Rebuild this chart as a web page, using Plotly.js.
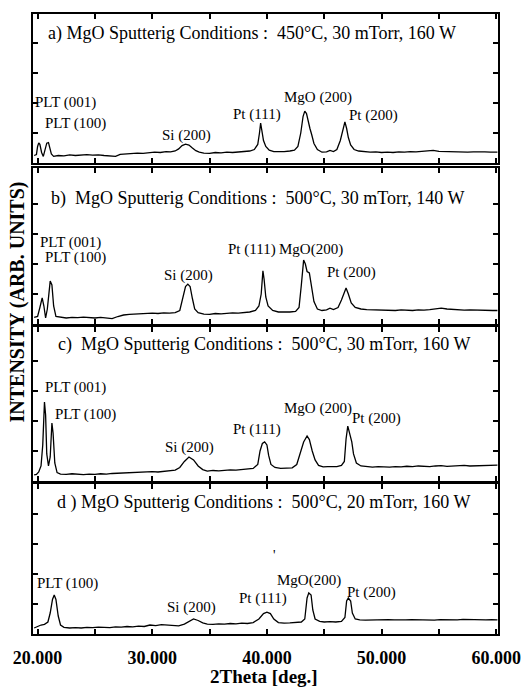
<!DOCTYPE html>
<html>
<head>
<meta charset="utf-8">
<script src="https://cdn.plot.ly/plotly-3.0.1.min.js"></script>
</head>
<body style="margin:0">
<div id="chart" style="width:528px;height:687px"></div>
<script>
// ---------- DATA ----------
// Panel a) 450°C, 30 mTorr, 160 W
const aTheta = [19.7,19.9,20.0,20.1,20.2,20.35,20.5,20.65,20.8,20.95,21.05,21.2,21.4,21.8,22.3,22.8,23.3,23.8,24.3,24.8,25.3,25.8,26.3,26.8,27.2,27.7,28.2,28.7,29.2,29.7,30.2,30.7,31.2,31.6,32.0,32.3,32.6,32.9,33.2,33.5,33.8,34.1,34.5,35.0,35.5,36.0,36.5,37.0,37.5,38.0,38.5,38.9,39.2,39.35,39.45,39.55,39.7,39.9,40.2,40.6,41.0,41.5,42.0,42.4,42.7,42.95,43.15,43.3,43.45,43.6,43.75,43.9,44.1,44.4,44.8,45.2,45.5,45.8,46.1,46.4,46.6,46.8,46.95,47.1,47.3,47.6,48.0,48.5,49.0,49.5,50.0,50.5,51.0,51.5,52.0,52.5,53.0,53.5,54.0,54.5,55.0,55.5,56.0,56.5,57.0,57.5,58.0,58.5,59.0,59.5,60.1];
const aInt   = [0.25,0.28,0.55,0.67,0.62,0.35,0.22,0.45,0.66,0.68,0.55,0.30,0.22,0.25,0.24,0.27,0.25,0.26,0.28,0.26,0.27,0.25,0.23,0.22,0.29,0.31,0.32,0.33,0.32,0.35,0.36,0.35,0.38,0.37,0.40,0.47,0.58,0.63,0.60,0.50,0.41,0.36,0.33,0.32,0.35,0.34,0.36,0.35,0.37,0.38,0.40,0.45,0.62,1.00,1.33,1.10,0.75,0.55,0.43,0.38,0.37,0.38,0.40,0.43,0.55,1.00,1.55,1.73,1.65,1.35,1.15,0.95,0.65,0.45,0.36,0.37,0.42,0.38,0.45,0.75,1.10,1.37,1.15,0.85,0.60,0.45,0.40,0.38,0.36,0.37,0.35,0.36,0.35,0.37,0.36,0.38,0.37,0.39,0.40,0.42,0.39,0.38,0.37,0.38,0.37,0.36,0.37,0.38,0.37,0.36,0.36];

// Panel b) 500°C, 30 mTorr, 140 W
const bTheta = [19.7,20.0,20.2,20.4,20.55,20.7,20.85,21.0,21.1,21.25,21.4,21.6,22.0,22.5,23.0,23.5,24.0,24.5,25.0,25.5,26.0,26.5,27.0,27.5,28.0,28.5,29.0,29.5,30.0,30.5,31.0,31.5,32.0,32.4,32.7,32.9,33.1,33.3,33.5,33.7,34.0,34.5,35.0,35.5,36.0,36.5,37.0,37.5,38.0,38.5,39.0,39.3,39.5,39.65,39.75,39.9,40.1,40.5,41.0,41.5,42.0,42.5,42.8,43.0,43.2,43.35,43.5,43.7,43.9,44.1,44.4,44.8,45.2,45.5,45.8,46.2,46.5,46.75,46.9,47.1,47.35,47.7,48.2,48.7,49.2,49.7,50.2,50.7,51.2,51.7,52.2,52.7,53.2,53.7,54.2,54.7,55.2,55.7,56.2,56.7,57.2,57.7,58.2,58.7,59.2,59.7,60.1];
const bInt   = [0.22,0.25,0.55,0.87,0.60,0.20,0.50,1.20,1.43,1.30,0.60,0.25,0.22,0.20,0.22,0.21,0.23,0.22,0.20,0.22,0.20,0.18,0.25,0.30,0.32,0.33,0.35,0.34,0.36,0.35,0.37,0.36,0.38,0.45,0.90,1.25,1.33,1.25,0.85,0.50,0.38,0.33,0.32,0.35,0.34,0.36,0.37,0.36,0.38,0.40,0.45,0.60,1.00,1.77,1.50,0.90,0.60,0.45,0.40,0.39,0.40,0.42,0.55,1.30,2.13,2.00,1.75,1.70,1.20,0.75,0.50,0.45,0.47,0.53,0.48,0.55,0.80,1.10,1.20,1.00,0.70,0.55,0.50,0.48,0.47,0.46,0.45,0.46,0.45,0.47,0.46,0.45,0.47,0.46,0.48,0.50,0.53,0.50,0.48,0.47,0.46,0.47,0.46,0.47,0.46,0.45,0.45];

// Panel c) 500°C, 30 mTorr, 160 W
const cTheta = [19.7,19.9,20.1,20.3,20.45,20.6,20.7,20.8,20.95,21.1,21.25,21.35,21.5,21.7,22.0,22.5,23.0,23.5,24.0,24.5,25.0,25.5,26.0,26.5,27.0,27.5,28.0,28.5,29.0,29.5,30.0,30.5,31.0,31.5,32.0,32.4,32.8,33.2,33.6,34.0,34.4,34.8,35.3,35.8,36.3,36.8,37.3,37.8,38.3,38.8,39.2,39.4,39.6,39.8,40.0,40.15,40.35,40.7,41.2,41.7,42.2,42.6,42.9,43.2,43.5,43.7,43.95,44.2,44.5,44.9,45.3,45.7,46.1,46.5,46.75,46.9,47.05,47.2,47.4,47.55,47.8,48.2,48.7,49.2,49.7,50.2,50.7,51.2,51.7,52.2,52.7,53.2,53.7,54.2,54.7,55.2,55.7,56.2,56.7,57.2,57.7,58.2,58.7,59.2,59.7,60.1];
const cInt   = [0.20,0.22,0.30,0.50,1.20,2.63,2.20,0.90,0.50,0.80,1.93,1.60,0.60,0.28,0.23,0.22,0.24,0.22,0.21,0.23,0.22,0.24,0.23,0.25,0.26,0.25,0.28,0.27,0.30,0.29,0.31,0.30,0.32,0.33,0.36,0.45,0.65,0.80,0.70,0.50,0.38,0.33,0.35,0.34,0.36,0.37,0.36,0.38,0.39,0.42,0.55,1.00,1.25,1.30,1.20,0.85,0.55,0.45,0.42,0.43,0.44,0.55,0.90,1.30,1.50,1.38,1.00,0.70,0.52,0.47,0.48,0.47,0.48,0.52,0.65,1.40,1.83,1.60,1.30,0.90,0.60,0.50,0.47,0.46,0.48,0.47,0.46,0.48,0.47,0.49,0.48,0.50,0.49,0.48,0.50,0.51,0.49,0.50,0.51,0.52,0.50,0.51,0.52,0.53,0.52,0.53];

// Panel d) 500°C, 20 mTorr, 160 W
const dTheta = [19.7,20.0,20.3,20.6,20.9,21.1,21.3,21.45,21.6,21.8,22.0,22.3,22.8,23.3,23.8,24.3,24.8,25.3,25.8,26.3,26.8,27.3,27.8,28.3,28.8,29.3,29.8,30.3,30.8,31.3,31.8,32.3,32.8,33.2,33.6,34.0,34.4,34.8,35.3,35.8,36.3,36.8,37.3,37.8,38.3,38.8,39.3,39.7,40.0,40.3,40.6,41.0,41.5,42.0,42.5,43.0,43.3,43.5,43.65,43.85,44.0,44.2,44.6,45.0,45.5,46.0,46.5,46.8,46.95,47.1,47.3,47.45,47.7,48.1,48.6,49.1,49.6,50.1,50.6,51.1,51.6,52.1,52.6,53.1,53.6,54.1,54.6,55.1,55.6,56.1,56.6,57.1,57.6,58.1,58.6,59.1,59.6,60.1];
const dInt   = [0.20,0.25,0.30,0.32,0.40,0.70,1.15,1.30,1.15,0.60,0.30,0.22,0.20,0.21,0.20,0.22,0.21,0.23,0.22,0.21,0.24,0.23,0.25,0.24,0.26,0.25,0.30,0.28,0.31,0.30,0.28,0.27,0.33,0.43,0.50,0.45,0.37,0.33,0.32,0.34,0.33,0.35,0.34,0.36,0.35,0.38,0.50,0.68,0.73,0.68,0.50,0.38,0.36,0.37,0.38,0.40,0.50,1.20,1.37,1.30,0.80,0.50,0.42,0.40,0.41,0.40,0.42,0.55,1.10,1.20,1.10,0.70,0.50,0.47,0.46,0.47,0.46,0.47,0.48,0.47,0.46,0.47,0.48,0.47,0.48,0.47,0.46,0.48,0.47,0.48,0.47,0.49,0.48,0.47,0.48,0.47,0.48,0.47];

const panelTitles = [
  "a)\u00a0MgO Sputterig Conditions :\u00a0\u00a0450\u00b0C, 30 mTorr, 160 W",
  "b)\u00a0 MgO Sputterig Conditions :\u00a0\u00a0500\u00b0C, 30 mTorr, 140 W",
  "c)\u00a0 MgO Sputterig Conditions :\u00a0\u00a0500\u00b0C, 30 mTorr, 160 W",
  "d\u00a0)\u00a0MgO Sputterig Conditions :\u00a0\u00a0500\u00b0C, 20 mTorr, 160 W"
];
const xTickVals = [20,25,30,35,40,45,50,55,60];
const xTickText = ["20.000","","30.000","","40.000","","50.000","","60.000"];
const xAxisTitle = "2Theta [deg.]";
const yAxisTitle = "INTENSITY (ARB. UNITS)";

// peak labels: [text, 2theta, intensity]
const aLabels = [["PLT (001)",19.6,2.03],["PLT (100)",20.47,1.33],["Si (200)",30.68,0.93],["Pt (111)",36.87,1.63],["MgO (200)",41.3,2.17],["Pt (200)",46.98,1.6]];
const bLabels = [["PLT (001)",20.04,2.73],["PLT (100)",20.47,2.23],["Si (200)",30.85,1.63],["Pt (111)",36.43,2.47],["MgO(200)",40.88,2.47],["Pt (200)",45.06,1.7]];
const cLabels = [["PLT (001)",20.47,3.1],["PLT (100)",21.34,2.23],["Si (200)",30.94,1.1],["Pt (111)",36.87,1.7],["MgO (200)",41.3,2.4],["Pt (200)",47.24,2.07]];
const dLabels = [["PLT (100)",19.77,1.67],["Si (200)",31.11,0.87],["Pt (111)",37.39,1.2],["MgO(200)",40.7,1.8],["Pt (200)",46.81,1.4]];

// ---------- CHART ----------
var FONTFAM = "Liberation Serif";
var traces = [
  {x:dTheta, y:dInt, xaxis:"x",  yaxis:"y",  type:"scatter", mode:"lines", line:{color:"#000", width:1.3}},
  {x:cTheta, y:cInt, xaxis:"x2", yaxis:"y2", type:"scatter", mode:"lines", line:{color:"#000", width:1.3}},
  {x:bTheta, y:bInt, xaxis:"x3", yaxis:"y3", type:"scatter", mode:"lines", line:{color:"#000", width:1.3}},
  {x:aTheta, y:aInt, xaxis:"x4", yaxis:"y4", type:"scatter", mode:"lines", line:{color:"#000", width:1.3}}
];

function xAx(anchor, labels){
  return {anchor:anchor, domain:[0,1], range:[19.6,60.15], tickmode:"array", tickvals:xTickVals,
    ticktext:xTickText.map(function(t){return t ? "<b>"+t+"</b>" : "";}), showticklabels:labels,
    ticks:"inside", ticklen:5, tickwidth:1.5, tickcolor:"#000", ticklabelstandoff:6,
    showline:true, linecolor:"#000", linewidth:2, mirror:"allticks", showgrid:false, zeroline:false,
    tickfont:{family:FONTFAM, size:18, color:"#000"}};
}
function yAx(anchor, dom, top){
  return {anchor:anchor, domain:dom, range:[0,top], tickmode:"array", tickvals:[1,2,3,4],
    showticklabels:false, ticks:"inside", ticklen:5, tickwidth:1.5, tickcolor:"#000",
    showline:true, linecolor:"#000", linewidth:2, mirror:"allticks", showgrid:false, zeroline:false};
}

var annotations = [];
var panels = [[aLabels,"x4","y4",4.33,0.471,0],[bLabels,"x3","y3",4.2,0.482,1],[cLabels,"x2","y2",4.53,0.497,2],[dLabels,"x","y",4.4,0.496,3]];
panels.forEach(function(p){
  var labs=p[0], xr=p[1], yr=p[2], ty=p[3], tx=p[4], idx=p[5];
  annotations.push({xref:"paper", yref:yr, x:tx, y:ty, text:panelTitles[idx], showarrow:false,
    xanchor:"center", yanchor:"middle", font:{family:FONTFAM, size:18, color:"#000"}});
  labs.forEach(function(l){annotations.push({xref:xr, yref:yr, x:l[1], y:l[2], text:l[0], showarrow:false,
    xanchor:"left", yanchor:"middle", font:{family:FONTFAM, size:15, color:"#000"}});});
});
annotations.push({xref:"x", yref:"y", x:40.7, y:2.63, text:"'", showarrow:false, font:{family:FONTFAM, size:14, color:"#000"}});
annotations.push({xref:"paper", yref:"paper", x:0.497, y:-0.069, text:"<b>"+xAxisTitle+"</b>", showarrow:false,
  xanchor:"center", yanchor:"middle", font:{family:FONTFAM, size:19, color:"#000"}});
annotations.push({xref:"paper", yref:"paper", x:-0.034, y:0.535, text:"<b>"+yAxisTitle+"</b>", showarrow:false,
  textangle:-90, xanchor:"center", yanchor:"middle", font:{family:FONTFAM, size:20, color:"#000"}});

var layout = {
  width:528, height:687, margin:{l:33, r:30, t:14, b:53},
  font:{family:FONTFAM, color:"#000"},
  paper_bgcolor:"#fff", plot_bgcolor:"#fff", showlegend:false,
  xaxis:xAx("y", true), xaxis2:xAx("y2", false), xaxis3:xAx("y3", false), xaxis4:xAx("y4", false),
  yaxis:yAx("x",[0,0.2419],5.0), yaxis2:yAx("x2",[0.2468,0.4952],5.13),
  yaxis3:yAx("x3",[0.5,0.7516],5.2), yaxis4:yAx("x4",[0.7597,1],4.97),
  annotations:annotations
};
Plotly.newPlot("chart", traces, layout, {displayModeBar:false});
</script>
</body>
</html>
